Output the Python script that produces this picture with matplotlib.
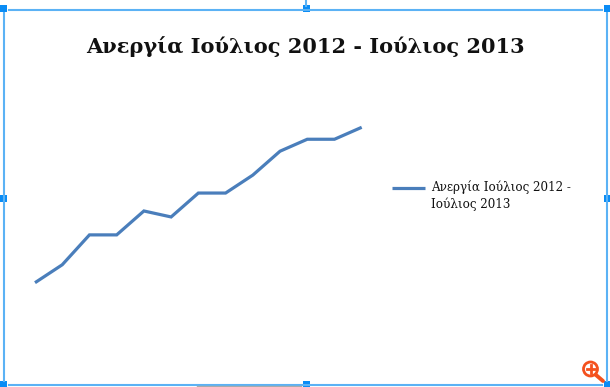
import matplotlib
matplotlib.use("Agg")
import matplotlib.pyplot as plt
from matplotlib.patches import Rectangle, Circle
from matplotlib.lines import Line2D
from matplotlib.legend_handler import HandlerLine2D

months = ["Ιούλ 2012", "Αύγ 2012", "Σεπ 2012", "Οκτ 2012", "Νοέ 2012", "Δεκ 2012",
          "Ιαν 2013", "Φεβ 2013", "Μάρ 2013", "Απρ 2013", "Μάι 2013", "Ιούν 2013", "Ιούλ 2013"]
unemployment = [24.8, 25.1, 25.6, 25.6, 26.0, 25.9, 26.3, 26.3, 26.6, 27.0, 27.2, 27.2, 27.4]
series_name = "Ανεργία Ιούλιος 2012 -\nΙούλιος 2013"
title = "Ανεργία Ιούλιος 2012 - Ιούλιος 2013"

W, H = 610, 387
fig = plt.figure(figsize=(W / 100, H / 100), dpi=100)

def px_rect(x0, y0, x1, y1):
    return [x0 / W, 1 - y1 / H, (x1 - x0) / W, (y1 - y0) / H]

# main plot area
ax = fig.add_axes(px_rect(35, 127.3, 361.7, 282.7))
line, = ax.plot(range(len(months)), unemployment, color="#4A7EBB", lw=2.3,
                solid_capstyle="butt", solid_joinstyle="miter", clip_on=False,
                label=series_name)
ax.set_xlim(0, len(months) - 1)
ax.set_ylim(min(unemployment), max(unemployment))
ax.axis("off")

fig.text(305.5 / W, 1 - 47 / H, title, ha="center", va="center",
         fontsize=15.0, fontweight="bold", family="DejaVu Serif", color="#111111")


class TopLine(HandlerLine2D):
    def create_artists(self, legend, orig_handle, xdescent, ydescent, width,
                       height, fontsize, trans):
        arts = super().create_artists(legend, orig_handle, xdescent, ydescent,
                                      width, height, fontsize, trans)
        for a in arts:
            y = a.get_ydata()
            a.set_ydata([v + 6.0 for v in y])
        return arts


leg = fig.legend(handles=[line], loc="upper left", bbox_to_anchor=(392 / W, 1 - 180 / H),
                 frameon=False, borderpad=0, borderaxespad=0, handlelength=2.75,
                 handletextpad=0.5, prop={"family": "DejaVu Serif", "size": 8.6},
                 labelspacing=0, handler_map={Line2D: TopLine()})
for t in leg.get_texts():
    t.set_linespacing(1.35)
    t.set_color("#111111")

# decoration overlay: selection frame and handles
ov = fig.add_axes([0, 0, 1, 1], zorder=5)
ov.set_xlim(0, W)
ov.set_ylim(H, 0)
ov.axis("off")
ov.patch.set_alpha(0)
fc = "#5BB2F5"
hc = "#0A8CF5"
ov.add_line(Line2D([9, 602], [9.5, 9.5], color=fc, lw=1.5))
ov.add_line(Line2D([4, 4], [13, 381], color=fc, lw=1.5))
ov.add_line(Line2D([607, 607], [13, 381], color=fc, lw=1.5))
ov.add_line(Line2D([9, 602], [384.5, 384.5], color=fc, lw=1.5))
ov.add_line(Line2D([197, 301], [386.3, 386.3], color="#AAAAAA", lw=1))
ov.add_line(Line2D([306, 306], [0, 6], color=fc, lw=1.5))
for (cx, cy) in [(3, 8.5), (306, 8.5), (607, 8.5), (3, 198), (607, 198),
                 (3, 384), (306, 384), (607, 384)]:
    ov.add_patch(Rectangle((cx - 3.5, cy - 3.5), 7, 7, color=hc, lw=0))

# zoom icon
oc = "#F4511E"
ov.add_line(Line2D([596, 603], [375, 381], color=oc, lw=2.8, solid_capstyle="round"))
ov.add_patch(Circle((590.5, 369), 7.0, fill=False, ec=oc, lw=2.0))
ov.add_line(Line2D([586.5, 594.5], [369, 369], color=oc, lw=2.0))
ov.add_line(Line2D([590.5, 590.5], [365, 373], color=oc, lw=2.0))

fig.savefig("out.png", dpi=100)
